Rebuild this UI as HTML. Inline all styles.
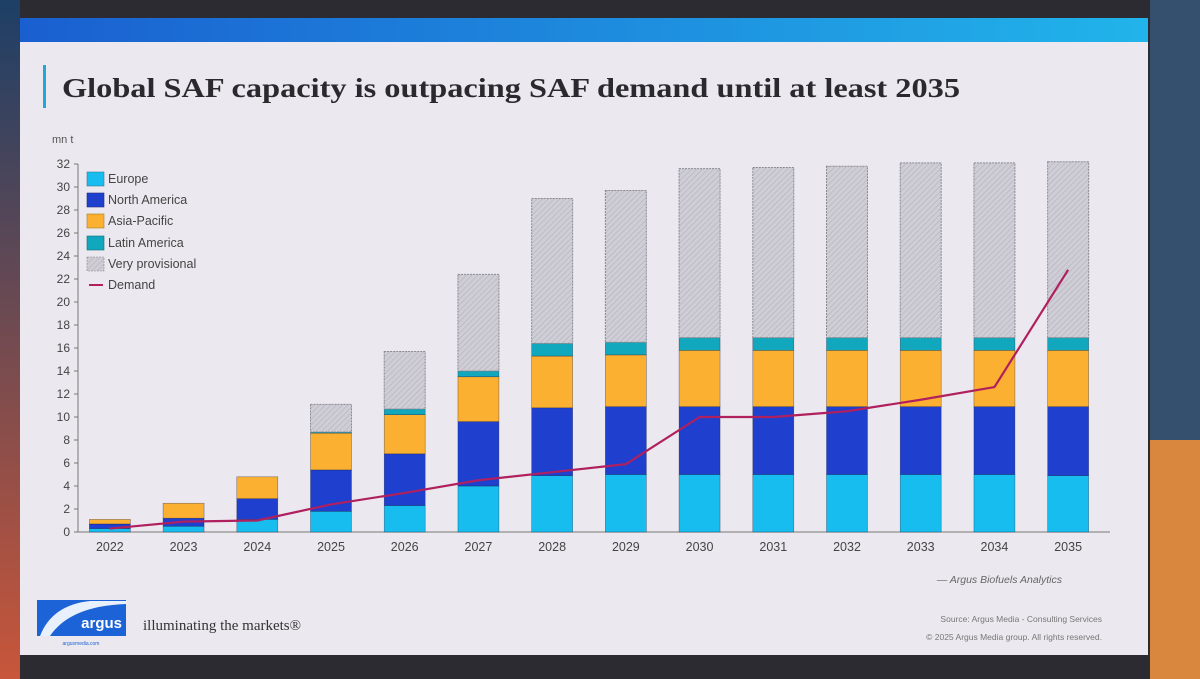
<!DOCTYPE html>
<html><head><meta charset="utf-8"><style>
html,body{margin:0;padding:0;width:1200px;height:679px;overflow:hidden;background:#2a2a30;}
svg{display:block}
</style></head><body>
<svg id="root" width="1200" height="679" viewBox="0 0 1200 679" xmlns="http://www.w3.org/2000/svg">
<defs>
<linearGradient id="hdr" x1="0" x2="1" y1="0" y2="0"><stop offset="0" stop-color="#1a5fd0"/><stop offset="1" stop-color="#21b4ea"/></linearGradient>
<linearGradient id="bgL" x1="0" x2="0" y1="0" y2="1"><stop offset="0" stop-color="#1d3f66"/><stop offset="1" stop-color="#c8563a"/></linearGradient>
<pattern id="hatch" width="4" height="4" patternUnits="userSpaceOnUse" patternTransform="rotate(45)"><rect width="4" height="4" fill="#cfcdd5"/><line x1="0" y1="0" x2="0" y2="4" stroke="#b6b4bd" stroke-width="1.4"/></pattern>
</defs>
<rect x="0" y="0" width="1200" height="679" fill="#2b2b31"/>
<rect x="0" y="0" width="20" height="679" fill="url(#bgL)"/>
<rect x="1150" y="0" width="50" height="679" fill="#35506e"/>
<rect x="1150" y="440" width="50" height="239" fill="#d9873f"/>
<rect x="20" y="18" width="1128" height="637" fill="#ebe8ef"/>
<rect x="20" y="18" width="1128" height="24" fill="url(#hdr)"/>
<rect x="43" y="65" width="3" height="43" fill="#1fa8d8"/>
<text x="62" y="97" font-family="Liberation Serif, serif" font-weight="bold" font-size="27" fill="#2a2a2e" textLength="898" lengthAdjust="spacingAndGlyphs">Global SAF capacity is outpacing SAF demand until at least 2035</text>
<text x="52" y="143" font-family="Liberation Sans, sans-serif" font-size="11" fill="#555">mn t</text>
<g id="chart"></g>
<g font-family="Liberation Sans, sans-serif" font-size="12.5" fill="#444">
<rect x="87" y="172" width="17" height="14" fill="#16bdee" stroke="#3a7aa0" stroke-width="0.6"/><text x="108" y="183">Europe</text>
<rect x="87" y="193" width="17" height="14" fill="#1f3fcf" stroke="#213080" stroke-width="0.6"/><text x="108" y="204">North America</text>
<rect x="87" y="214" width="17" height="14" fill="#fbb032" stroke="#b07a20" stroke-width="0.6"/><text x="108" y="225">Asia-Pacific</text>
<rect x="87" y="236" width="17" height="14" fill="#11a7bd" stroke="#0c6f7d" stroke-width="0.6"/><text x="108" y="247">Latin America</text>
<rect x="87" y="257" width="17" height="14" fill="url(#hatch)" stroke="#888" stroke-width="0.6" stroke-dasharray="2,1"/><text x="108" y="268">Very provisional</text>
<line x1="89" y1="285" x2="103" y2="285" stroke="#b0205e" stroke-width="2"/><text x="108" y="289">Demand</text>
</g>
<text x="1062" y="583" text-anchor="end" font-family="Liberation Sans, sans-serif" font-style="italic" font-size="10.5" fill="#666">— Argus Biofuels Analytics</text>
<text x="1102" y="622" text-anchor="end" font-family="Liberation Sans, sans-serif" font-size="8.5" fill="#777">Source: Argus Media - Consulting Services</text>
<text x="1102" y="640" text-anchor="end" font-family="Liberation Sans, sans-serif" font-size="8.5" fill="#777">© 2025 Argus Media group. All rights reserved.</text>
<g>
<rect x="37" y="600" width="89" height="36" fill="#1b63d6"/>
<path d="M40 636 Q52 605 90 601 L126 601 L126 604 Q70 606 50 636 Z" fill="#fff" opacity="0.9"/>
<text x="122" y="628" text-anchor="end" font-family="Liberation Sans, sans-serif" font-weight="bold" font-size="15" fill="#fff">argus</text>
<text x="81" y="645" text-anchor="middle" font-family="Liberation Sans, sans-serif" font-size="5" fill="#1b63d6">argusmedia.com</text>
</g>
<text x="143" y="630" font-family="Liberation Serif, serif" font-size="15" fill="#333">illuminating the markets®</text>
</svg>
<script>
const categories=["2022","2023","2024","2025","2026","2027","2028","2029","2030","2031","2032","2033","2034","2035"];
const europe=[0.3,0.5,1.1,1.8,2.3,4.0,4.9,5.0,5.0,5.0,5.0,5.0,5.0,4.9];
const northAmerica=[0.4,0.7,1.8,3.6,4.5,5.6,5.9,5.9,5.9,5.9,5.9,5.9,5.9,6.0];
const asiaPacific=[0.4,1.3,1.9,3.2,3.4,3.9,4.5,4.5,4.9,4.9,4.9,4.9,4.9,4.9];
const latinAmerica=[0,0,0,0.1,0.5,0.5,1.1,1.1,1.1,1.1,1.1,1.1,1.1,1.1];
const veryProvisional=[0,0,0,2.4,5.0,8.4,12.6,13.2,14.7,14.8,14.9,15.2,15.2,15.3];
const demand=[0.3,0.9,1.0,2.4,3.4,4.5,5.2,5.9,10.0,10.0,10.5,11.5,12.6,22.8];
const yTicks=[0,2,4,6,8,10,12,14,16,18,20,22,24,26,28,30,32];

const NS="http://www.w3.org/2000/svg";
const g=document.getElementById('chart');
const y0=532,y1=164,vmax=32,left=78,right=1110;
const yScale=v=>y0-(v/vmax)*(y0-y1);
const step=(right-left)/categories.length;
const xCenter=i=>left+step*(i+0.5)-5;
const bw=41;
function mk(tag,attrs){const e=document.createElementNS(NS,tag);for(const k in attrs)e.setAttribute(k,attrs[k]);g.appendChild(e);return e;}
const ax=mk('line',{x1:left,y1:y1,x2:left,y2:y0,stroke:'#777','stroke-width':1});


const bx=mk('line',{x1:left,y1:y0,x2:right,y2:y0,stroke:'#777','stroke-width':1});


yTicks.forEach(t=>{
  const tk=mk('line',{x1:left-4,x2:left,y1:yScale(t),y2:yScale(t),stroke:'#777'});
  
  
  const tx=mk('text',{x:left-8,y:yScale(t)+4,'text-anchor':'end','font-family':'Liberation Sans, sans-serif','font-size':12,fill:'#444'});
  tx.textContent=t;
  
  
});
const series=[[europe,'#16bdee','europe'],[northAmerica,'#1f3fcf','north-america'],[asiaPacific,'#fbb032','asia-pacific'],[latinAmerica,'#11a7bd','latin-america'],[veryProvisional,'url(#hatch)','very-provisional']];
categories.forEach((c,i)=>{
  let acc=0;const cx=xCenter(i);
  series.forEach(([arr,col,nm])=>{
    const v=arr[i];if(v<=0)return;
    const yt=yScale(acc+v),yb=yScale(acc);
    const r=mk('rect',{x:cx-bw/2,y:yt,width:bw,height:yb-yt,fill:col,stroke:nm==='very-provisional'?'#8a8a92':'rgba(20,30,60,0.5)','stroke-width':nm==='very-provisional'?1:0.6});
    if(nm==='very-provisional')r.setAttribute('stroke-dasharray','2,1');
    
    
    acc+=v;
  });
  const tx=mk('text',{x:cx,y:y0+19,'text-anchor':'middle','font-family':'Liberation Sans, sans-serif','font-size':12.5,fill:'#444'});
  tx.textContent=c;
  
  
});
const pts=demand.map((d,i)=>xCenter(i)+','+yScale(d)).join(' ');
const pl=mk('polyline',{points:pts,fill:'none',stroke:'#b0205e','stroke-width':2.2,'stroke-linejoin':'round'});


</script>
</body></html>
